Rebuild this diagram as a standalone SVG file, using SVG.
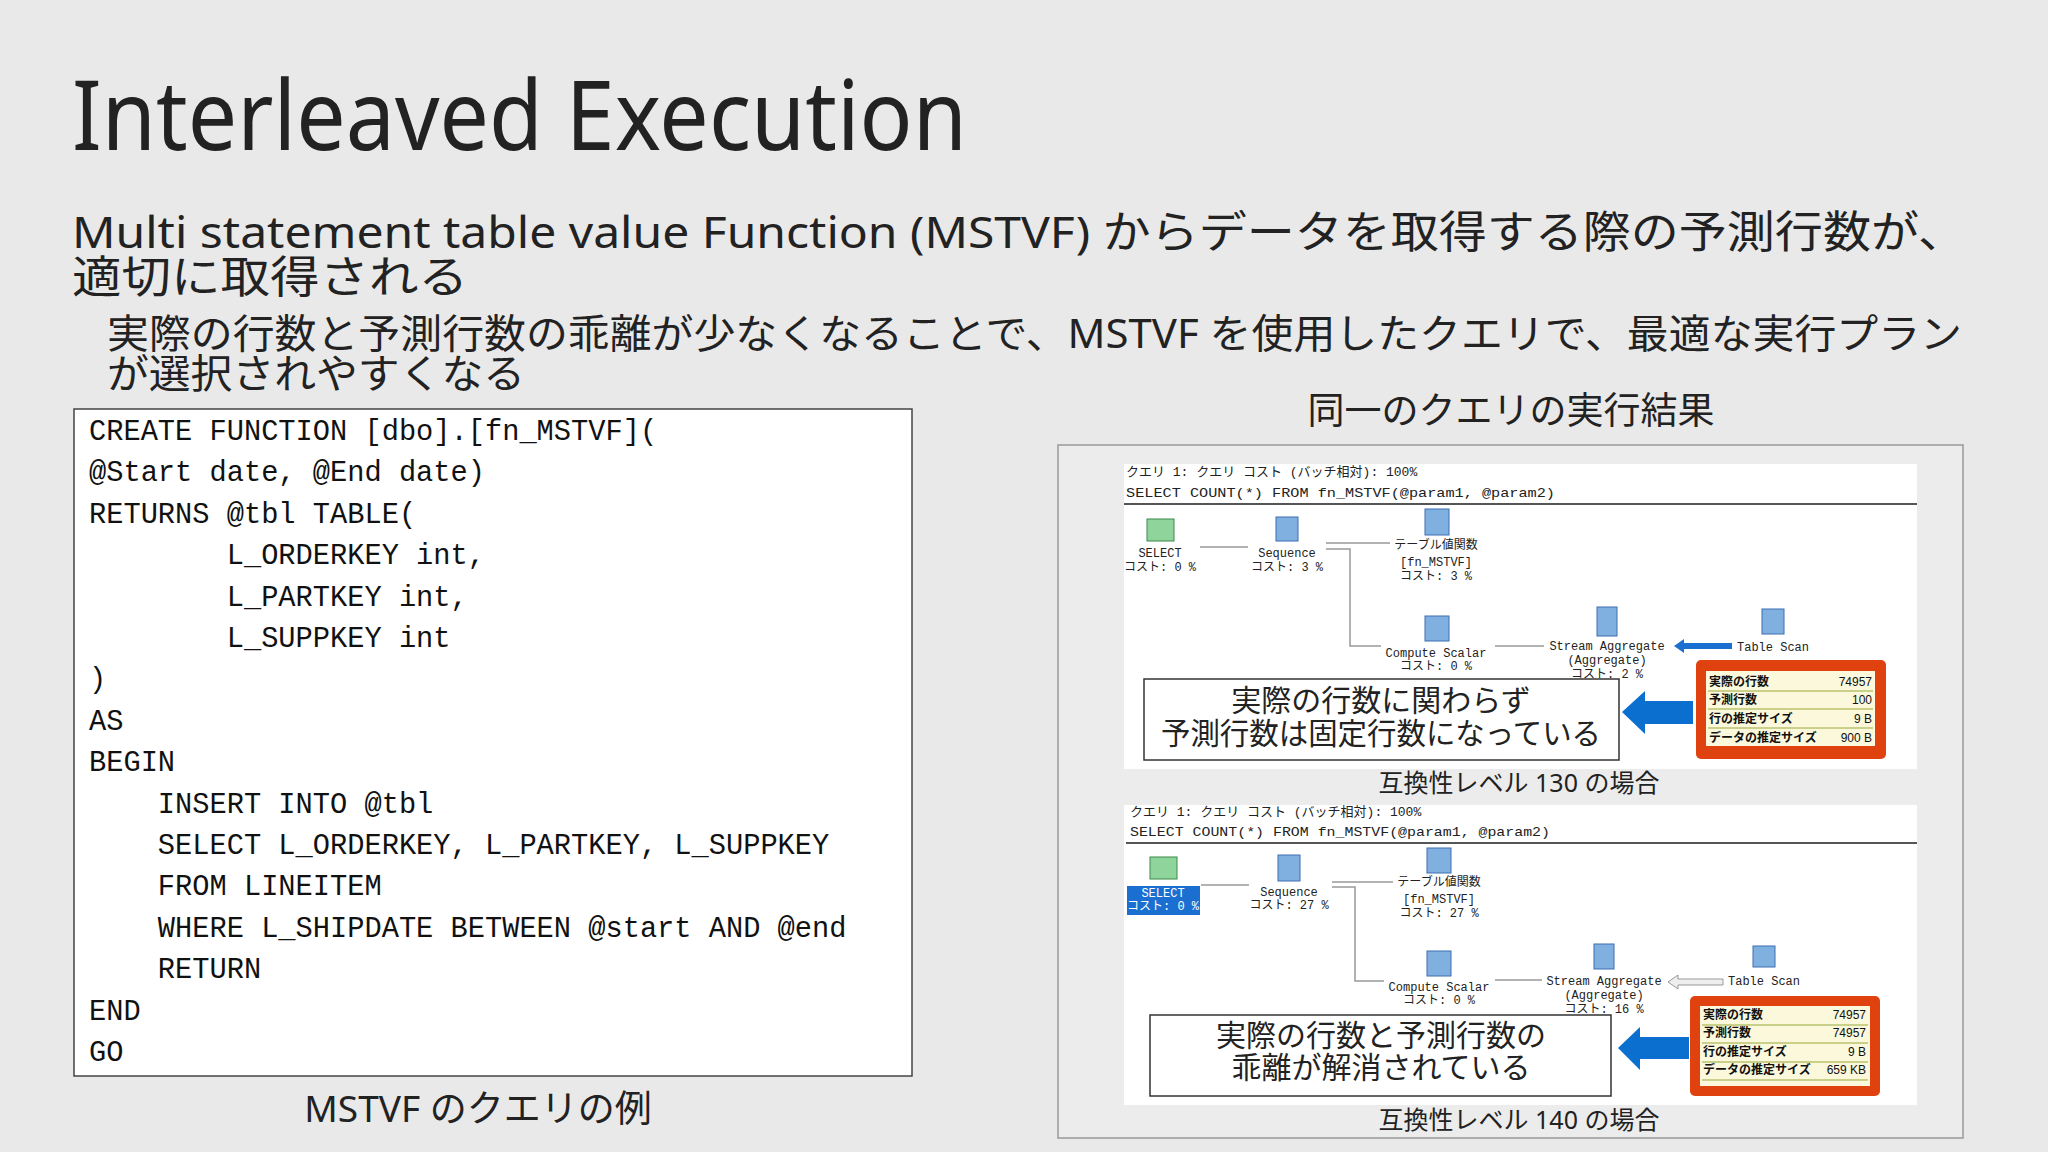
<svg xmlns="http://www.w3.org/2000/svg" width="2048" height="1152" viewBox="0 0 2048 1152">
<style>
.jp{font-family:"Noto Sans","Noto Sans CJK JP",sans-serif;fill:#222}
.code{font-family:"Liberation Mono","DejaVu Sans Mono",monospace;font-size:28.7px;fill:#111}
.ss{font-family:"Liberation Mono","Noto Sans CJK JP",monospace;font-size:13px;fill:#222}
.lbl{font-family:"Liberation Mono","Noto Sans CJK JP",monospace;font-size:12px;fill:#222;text-anchor:middle}
.cb{font-family:"Noto Sans CJK JP",sans-serif;font-size:30px;fill:#222;text-anchor:middle}
.rw{font-family:"Noto Sans CJK JP",sans-serif;font-size:12px;font-weight:bold;fill:#111}
.rv{font-family:"Liberation Sans",sans-serif;font-size:12px;fill:#111;text-anchor:end}
.ln{stroke:#999;stroke-width:1.5;fill:none}
.ic{fill:#7fb0e0;stroke:#3c6fb0;stroke-width:1}
</style>
<rect width="2048" height="1152" fill="#e9e9e9"/>
<g id="title">
<text class="jp" x="72" y="150" font-size="96" textLength="895" lengthAdjust="spacingAndGlyphs">Interleaved Execution</text>
<text class="jp" x="72" y="248" font-size="44" textLength="1894" lengthAdjust="spacingAndGlyphs">Multi statement table value Function (MSTVF) からデータを取得する際の予測行数が、</text>
<text class="jp" x="72" y="293" font-size="44" textLength="396" lengthAdjust="spacingAndGlyphs">適切に取得される</text>
<text class="jp" x="107" y="348" font-size="40" textLength="1855" lengthAdjust="spacingAndGlyphs">実際の行数と予測行数の乖離が少なくなることで、MSTVF を使用したクエリで、最適な実行プラン</text>
<text class="jp" x="107" y="388" font-size="40" textLength="418" lengthAdjust="spacingAndGlyphs">が選択されやすくなる</text>
</g>
<g id="code">
<rect x="74" y="409" width="838" height="667" fill="#fff" stroke="#444" stroke-width="1.5"/>
<text class="code" x="89" y="440" xml:space="preserve">CREATE FUNCTION [dbo].[fn_MSTVF](</text>
<text class="code" x="89" y="481" xml:space="preserve">@Start date, @End date)</text>
<text class="code" x="89" y="523" xml:space="preserve">RETURNS @tbl TABLE(</text>
<text class="code" x="89" y="564" xml:space="preserve">        L_ORDERKEY int,</text>
<text class="code" x="89" y="606" xml:space="preserve">        L_PARTKEY int,</text>
<text class="code" x="89" y="647" xml:space="preserve">        L_SUPPKEY int</text>
<text class="code" x="89" y="688" xml:space="preserve">)</text>
<text class="code" x="89" y="730" xml:space="preserve">AS</text>
<text class="code" x="89" y="771" xml:space="preserve">BEGIN</text>
<text class="code" x="89" y="813" xml:space="preserve">    INSERT INTO @tbl</text>
<text class="code" x="89" y="854" xml:space="preserve">    SELECT L_ORDERKEY, L_PARTKEY, L_SUPPKEY</text>
<text class="code" x="89" y="895" xml:space="preserve">    FROM LINEITEM</text>
<text class="code" x="89" y="937" xml:space="preserve">    WHERE L_SHIPDATE BETWEEN @start AND @end</text>
<text class="code" x="89" y="978" xml:space="preserve">    RETURN</text>
<text class="code" x="89" y="1020" xml:space="preserve">END</text>
<text class="code" x="89" y="1061" xml:space="preserve">GO</text>
<text class="jp" x="478" y="1122" font-size="37" text-anchor="middle">MSTVF のクエリの例</text>
</g>
<g id="results">
<text class="jp" x="1511" y="424" font-size="37" text-anchor="middle">同一のクエリの実行結果</text>
<rect x="1058" y="445" width="905" height="693" fill="#ececec" stroke="#999" stroke-width="1.5"/>
</g>
<g id="plan130">
<rect x="1124" y="464" width="793" height="305" fill="#fff"/>
<text class="ss" x="1126" y="476">クエリ 1: クエリ コスト (バッチ相対): 100%</text>
<text class="ss" x="1126" y="497" textLength="429" lengthAdjust="spacingAndGlyphs">SELECT COUNT(*) FROM fn_MSTVF(@param1, @param2)</text>
<line x1="1124" y1="504" x2="1917" y2="504" stroke="#555" stroke-width="2"/>
<rect x="1147" y="519" width="27" height="22" fill="#8fd49a" stroke="#3a8a4a"/>
<rect x="1276" y="517" width="22" height="24" class="ic"/>
<rect x="1425" y="509" width="24" height="26" class="ic"/>
<rect x="1425" y="616" width="24" height="25" class="ic"/>
<rect x="1597" y="607" width="20" height="29" class="ic"/>
<rect x="1762" y="609" width="22" height="25" class="ic"/>
<text class="lbl" x="1160" y="557">SELECT</text><text class="lbl" x="1160" y="571">コスト: 0 %</text>
<text class="lbl" x="1287" y="557">Sequence</text><text class="lbl" x="1287" y="571">コスト: 3 %</text>
<text class="lbl" x="1436" y="549">テーブル値関数</text><text class="lbl" x="1436" y="566">[fn_MSTVF]</text><text class="lbl" x="1436" y="580">コスト: 3 %</text>
<text class="lbl" x="1436" y="657">Compute Scalar</text><text class="lbl" x="1436" y="670">コスト: 0 %</text>
<text class="lbl" x="1607" y="650">Stream Aggregate</text><text class="lbl" x="1607" y="664">(Aggregate)</text><text class="lbl" x="1607" y="678">コスト: 2 %</text>
<text class="lbl" x="1773" y="651">Table Scan</text>
</g>
<g id="plan140">
<rect x="1124" y="805" width="793" height="300" fill="#fff"/>
<text class="ss" x="1130" y="816">クエリ 1: クエリ コスト (バッチ相対): 100%</text>
<text class="ss" x="1130" y="836" textLength="420" lengthAdjust="spacingAndGlyphs">SELECT COUNT(*) FROM fn_MSTVF(@param1, @param2)</text>
<line x1="1126" y1="843" x2="1917" y2="843" stroke="#555" stroke-width="2"/>
<rect x="1150" y="857" width="27" height="22" fill="#8fd49a" stroke="#3a8a4a"/>
<rect x="1127" y="886" width="73" height="29" fill="#1a6fd0"/>
<rect x="1278" y="855" width="22" height="26" class="ic"/>
<rect x="1427" y="848" width="24" height="25" class="ic"/>
<rect x="1427" y="951" width="24" height="25" class="ic"/>
<rect x="1594" y="944" width="20" height="25" class="ic"/>
<rect x="1753" y="946" width="22" height="21" class="ic"/>
<text class="lbl" x="1163" y="897" style="fill:#fff">SELECT</text><text class="lbl" x="1163" y="910" style="fill:#fff">コスト: 0 %</text>
<text class="lbl" x="1289" y="896">Sequence</text><text class="lbl" x="1289" y="909">コスト: 27 %</text>
<text class="lbl" x="1439" y="886">テーブル値関数</text><text class="lbl" x="1439" y="903">[fn_MSTVF]</text><text class="lbl" x="1439" y="917">コスト: 27 %</text>
<text class="lbl" x="1439" y="991">Compute Scalar</text><text class="lbl" x="1439" y="1004">コスト: 0 %</text>
<text class="lbl" x="1604" y="985">Stream Aggregate</text><text class="lbl" x="1604" y="999">(Aggregate)</text><text class="lbl" x="1604" y="1013">コスト: 16 %</text>
<text class="lbl" x="1764" y="985">Table Scan</text>
</g>
<g id="connectors">
<path class="ln" d="M1200 547 H1248 M1326 543 H1390 M1326 549 H1350 V646 H1381 M1495 646 H1544"/>
<path d="M1674 646 l10 -7 v4 h48 v6 h-48 v4 z" fill="#1a6fd0"/>
<path class="ln" d="M1201 885 H1249 M1332 882 H1393 M1332 887 H1355 V981 H1384 M1495 980 H1542"/>
<path d="M1668 982 l10 -7 v4 h45 v6 h-45 v4 z" fill="#eee" stroke="#999"/>
<path d="M1622 712 L1645 691 V701 H1693 V724 H1645 V734 Z" fill="#0a6fcf"/>
<path d="M1618 1048 L1640 1027 V1037 H1689 V1059 H1640 V1070 Z" fill="#0a6fcf"/>
</g>
<g id="callout130">
<rect x="1144" y="679" width="475" height="81" fill="#fff" stroke="#333" stroke-width="1.5"/>
<text class="cb" x="1381" y="711">実際の行数に関わらず</text>
<text class="cb" x="1381" y="744" textLength="440" lengthAdjust="spacingAndGlyphs">予測行数は固定行数になっている</text>
</g>
<g id="stats130">
<rect x="1696" y="660" width="190" height="99" rx="5" fill="#e0420f"/>
<rect x="1706" y="671" width="169" height="75" fill="#fbf8dc"/>
<path d="M1708 691 H1873 M1708 709 H1873 M1708 728 H1873" stroke="#c8d08a" stroke-width="2"/>
<text class="rw" x="1709" y="686">実際の行数</text><text class="rv" x="1872" y="686">74957</text>
<text class="rw" x="1709" y="704">予測行数</text><text class="rv" x="1872" y="704">100</text>
<text class="rw" x="1709" y="723">行の推定サイズ</text><text class="rv" x="1872" y="723">9 B</text>
<text class="rw" x="1709" y="742">データの推定サイズ</text><text class="rv" x="1872" y="742">900 B</text>
</g>
<text class="jp" x="1519" y="792" font-size="25" text-anchor="middle">互換性レベル 130 の場合</text>
<g id="callout140">
<rect x="1150" y="1015" width="461" height="81" fill="#fff" stroke="#333" stroke-width="1.5"/>
<text class="cb" x="1381" y="1046">実際の行数と予測行数の</text>
<text class="cb" x="1381" y="1078">乖離が解消されている</text>
</g>
<g id="stats140">
<rect x="1690" y="996" width="190" height="100" rx="5" fill="#e0420f"/>
<rect x="1700" y="1006" width="170" height="80" fill="#fbf8dc"/>
<path d="M1702 1025 H1868 M1702 1043 H1868 M1702 1062 H1868 M1702 1080 H1868" stroke="#c8d08a" stroke-width="2"/>
<text class="rw" x="1703" y="1019">実際の行数</text><text class="rv" x="1866" y="1019">74957</text>
<text class="rw" x="1703" y="1037">予測行数</text><text class="rv" x="1866" y="1037">74957</text>
<text class="rw" x="1703" y="1056">行の推定サイズ</text><text class="rv" x="1866" y="1056">9 B</text>
<text class="rw" x="1703" y="1074">データの推定サイズ</text><text class="rv" x="1866" y="1074">659 KB</text>
</g>
<text class="jp" x="1519" y="1129" font-size="25" text-anchor="middle">互換性レベル 140 の場合</text>
</svg>
